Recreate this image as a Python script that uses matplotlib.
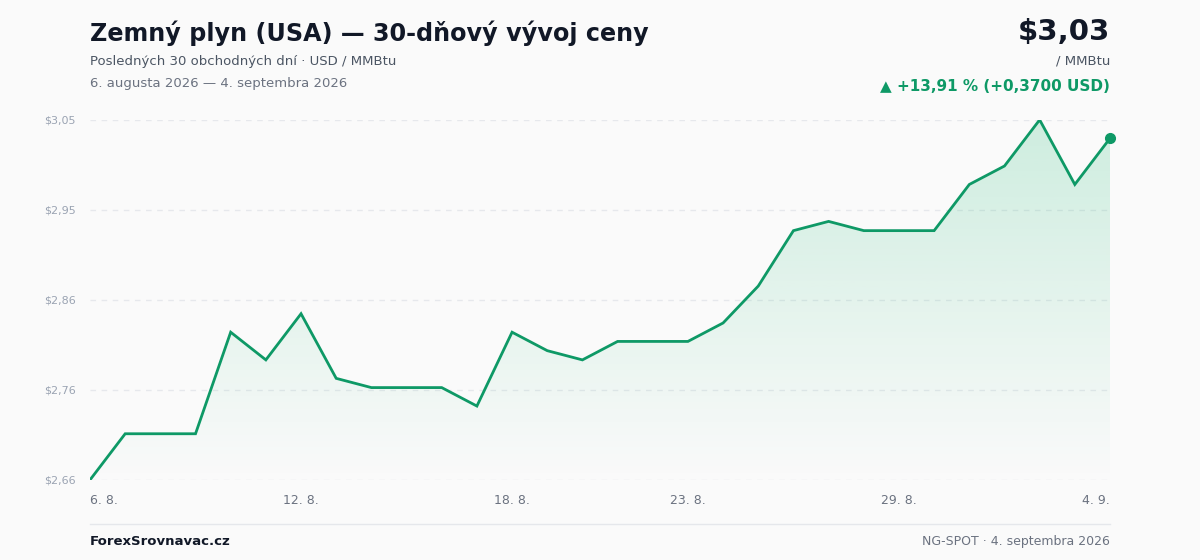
import numpy as np
import matplotlib
matplotlib.use('Agg')
import matplotlib.pyplot as plt
from matplotlib.patches import Polygon

prices = [2.66, 2.71, 2.71, 2.71, 2.82, 2.79, 2.84, 2.77, 2.76, 2.76,
          2.76, 2.74, 2.82, 2.80, 2.79, 2.81, 2.81, 2.81, 2.83, 2.87,
          2.93, 2.94, 2.93, 2.93, 2.93, 2.98, 3.00, 3.05, 2.98, 3.03]
tick_idx = [0, 6, 12, 17, 23, 29]
tick_labels = ['6. 8.', '12. 8.', '18. 8.', '23. 8.', '29. 8.', '4. 9.']
ytick_labels = ['$2,66', '$2,76', '$2,86', '$2,95', '$3,05']

green = '#0e9966'
bg = '#fafafa'
x = np.arange(len(prices))
ymin, ymax = min(prices), max(prices)

fig = plt.figure(figsize=(12, 5.6), dpi=100, facecolor=bg)
ax = fig.add_axes([0.075, 0.143, 0.85, 0.643], facecolor=bg)
ax.set_xlim(0, len(prices) - 1)
ax.set_ylim(ymin, ymax)

yt = np.linspace(ymin, ymax, 5)
for v in yt:
    ax.axhline(v, color='#e6e8ec', lw=1, ls=(0, (4, 4)), zorder=0)
ax.set_yticks(yt)
ax.set_yticklabels(ytick_labels, fontsize=8, color='#9aa3b2')
ax.set_xticks(tick_idx)
ax.set_xticklabels(tick_labels, fontsize=9, color='#6b7280')
xl = ax.get_xticklabels()
xl[0].set_ha('left')
xl[-1].set_ha('right')
ax.tick_params(length=0, pad=10)
ax.tick_params(axis='y', pad=10)
for s in ax.spines.values():
    s.set_visible(False)

# gradient fill under the line
grad = np.linspace(0.22, 0.0, 256).reshape(-1, 1)
rgba = np.zeros((256, 1, 4))
rgba[..., :3] = matplotlib.colors.to_rgb('#2fbf7f')
rgba[..., 3] = grad
im = ax.imshow(rgba, extent=[0, len(prices) - 1, ymin, ymax], aspect='auto', origin='upper', zorder=1)
poly = Polygon(np.vstack([np.column_stack([x, prices]), [[x[-1], ymin], [0, ymin]]]),
               closed=True, transform=ax.transData, facecolor='none', edgecolor='none')
ax.add_patch(poly)
im.set_clip_path(poly)

ax.plot(x, prices, color=green, lw=2, zorder=3, solid_joinstyle='miter')
ax.plot(x[-1], prices[-1], 'o', color=green, ms=7, zorder=4, clip_on=False)

fig.text(0.075, 0.94, 'Zemný plyn (USA) — 30-dňový vývoj ceny', fontsize=17.2, fontweight='bold', color='#111827', va='center')
fig.text(0.075, 0.891, 'Posledných 30 obchodných dní · USD / MMBtu', fontsize=9.5, color='#4b5563', va='center')
fig.text(0.075, 0.851, '6. augusta 2026 — 4. septembra 2026', fontsize=9.5, color='#6b7280', va='center')
fig.text(0.925, 0.942, '$3,03', fontsize=21, fontweight='bold', color='#111827', ha='right', va='center')
fig.text(0.925, 0.891, '/ MMBtu', fontsize=9.5, color='#4b5563', ha='right', va='center')
change = prices[-1] - prices[0]
pct = change / prices[0] * 100
fig.text(0.925, 0.845, f'▲ +{pct:.2f} % (+{change:.4f} USD)'.replace('.', ','), fontsize=11,
         fontweight='bold', color=green, ha='right', va='center')

fig.add_artist(plt.Line2D([0.075, 0.925], [0.065, 0.065], color='#e5e7eb', lw=1))
fig.text(0.075, 0.033, 'ForexSrovnavac.cz', fontsize=9.5, fontweight='bold', color='#111827', va='center')
fig.text(0.925, 0.033, 'NG-SPOT · 4. septembra 2026', fontsize=9, color='#6b7280', ha='right', va='center')

fig.savefig('out.png', dpi=100, facecolor=bg)
